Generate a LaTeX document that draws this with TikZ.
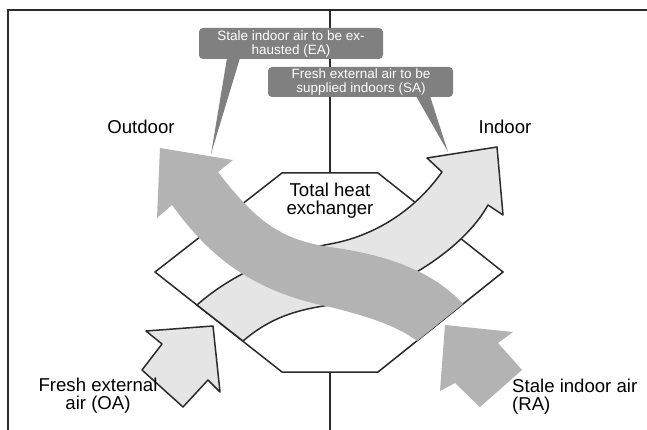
\documentclass[tikz,border=0pt]{standalone}
\usepackage{fontspec}
\setmainfont{Liberation Sans}
\definecolor{lineC}{HTML}{2B2B2B}
\definecolor{darkband}{HTML}{B3B3B3}
\definecolor{lightband}{HTML}{E5E5E5}
\definecolor{calloutC}{HTML}{808080}
\begin{document}
\begin{tikzpicture}[x=1pt,y=-1pt,
  frame/.style={draw=lineC, line width=1.6pt},
  outl/.style={draw=lineC, line width=1.5pt, line join=round},
  lightfill/.style={fill=lightband},
  darkfill/.style={fill=darkband},
  callout/.style={fill=calloutC, rounded corners=4pt},
  callouttext/.style={text=white, font=\fontsize{13.5}{14}\selectfont, align=center, inner sep=0pt},
  lbl/.style={font=\fontsize{18.6}{18}\selectfont, inner sep=0pt}
]
\useasboundingbox (0,0) rectangle (647,430);
\fill[white] (0,0) rectangle (647,430);
\draw[frame] (8,430) -- (8,10) -- (647,10);
\draw[frame] (330,10) -- (330,430);

% callouts
\fill[calloutC] (227,58) -- (240,58) -- (211,154) -- cycle;
\fill[callout] (199,28) rectangle (383,59);
\node[callouttext] (ea) at (291,44) {Stale indoor air to be ex-\\hausted (EA)};

\fill[calloutC] (416,96) -- (430,96) -- (448,152) -- cycle;
\fill[callout] (268,67) rectangle (453,97);
\node[callouttext] (sa) at (361,82) {Fresh external air to be\\supplied indoors (SA)};

% hexagon
\coordinate (h1) at (282,173);
\coordinate (h2) at (378,173);
\coordinate (h3) at (503,272);
\coordinate (h4) at (378,372);
\coordinate (h5) at (282,372);
\coordinate (h6) at (155,272);
\draw[outl, fill=white] (h1) -- (h2) -- (h3) -- (h4) -- (h5) -- (h6) -- cycle;

% light band (OA -> SA)
\draw[outl, lightfill] (197,305) .. controls (225,280) and (270,255) .. (330,244)
  .. controls (375,236) and (415,210) .. (442,172) -- (427,158) -- (497,147)
  -- (503,215) -- (488,205) .. controls (462,252) and (390,295) .. (330,305)
  .. controls (295,310) and (270,318) .. (243,341) -- cycle;

% dark band (RA -> EA)
\fill[darkfill] (218,172) .. controls (255,220) and (280,240) .. (330,247)
  .. controls (380,254) and (430,268) .. (463,304) -- (417,341)
  .. controls (400,328) and (375,318) .. (330,307)
  .. controls (245,290) and (205,250) .. (172,205) -- (157,218) -- (160,148)
  -- (233,160) -- cycle;

% small arrows
\draw[outl, lightfill] (213,326) -- (146,331) -- (162,344) -- (142,370) -- (183,407)
  -- (208,380) -- (220,392) -- cycle;
\fill[darkfill] (445,325) -- (513,332) -- (498,343) -- (522,370) -- (480,407)
  -- (455,383) -- (440,391) -- cycle;

% labels
\node[lbl] (outdoor) at (141,127) {Outdoor};
\node[lbl] (indoor) at (505,127) {Indoor};
\node[lbl, align=center] (the) at (330,201) {Total heat\\exchanger};
\node[lbl, align=center] (oa) at (98,396) {Fresh external\\air (OA)};
\node[lbl, align=left, anchor=west] (ra) at (512,397) {Stale indoor air\\(RA)};
\end{tikzpicture}
\end{document}
